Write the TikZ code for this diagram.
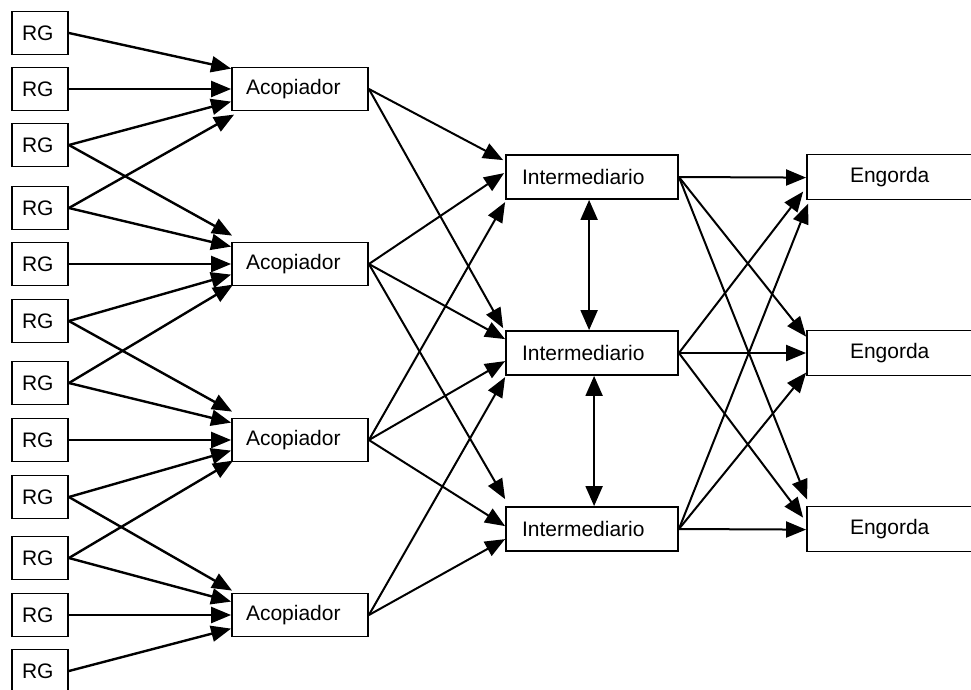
\documentclass[tikz,border=0pt]{standalone}
\usepackage{fontspec}
\setmainfont{Liberation Sans}
\usetikzlibrary{arrows.meta,calc}

\begin{document}
\begin{tikzpicture}[x=1pt,y=-1pt,
  box/.style={draw, line width=1.8pt, rectangle, minimum height=43pt,
    inner ysep=0pt, align=left, font=\fontsize{21}{24}\selectfont},
  rg/.style={box, text width=36pt, inner xsep=10pt},
  acop/.style={box, text width=108pt, inner xsep=14pt},
  inter/.style={box, text width=140pt, inner xsep=16pt, minimum height=44pt},
  eng/.style={box, text width=80pt, inner xsep=43pt, minimum height=45pt},
  link/.style={line width=2pt, -{Triangle[length=20pt,width=16pt]}},
  feed/.style={link, line width=2.4pt},
  both/.style={line width=2pt, {Triangle[length=20pt,width=17pt]}-{Triangle[length=20pt,width=17pt]}},
]
\path[use as bounding box, clip] (0,0) rectangle (971,689);

% producers
\foreach \i/\y in {1/33, 2/89, 3/145, 4/208, 5/264, 6/321, 7/383, 8/440,
                   9/497, 10/558, 11/615, 12/671}
  \node[rg] (rg\i) at (40,\y) {RG};

% collectors
\node[acop] (a1) at (300,89)  {Acopiador};
\node[acop] (a2) at (300,264) {Acopiador};
\node[acop] (a3) at (300,440) {Acopiador};
\node[acop] (a4) at (300,615) {Acopiador};

% intermediaries
\node[inter] (i1) at (592,177) {Intermediario};
\node[inter] (i2) at (592,353) {Intermediario};
\node[inter] (i3) at (592,529) {Intermediario};

% fattening
\node[eng] (e1) at (890,177) {Engorda};
\node[eng] (e2) at (890,353) {Engorda};
\node[eng] (e3) at (890,529) {Engorda};

% RG -> Acopiador
\draw[feed] (rg1.east) -- ($(a1.north west)+(0,2)$);
\draw[feed] (rg2.east) -- (a1.west);
\draw[feed] (rg3.east) -- ($(a1.north west)+(0,35)$);
\draw[feed] (rg4.east) -- ($(a1.north west)+(3,48)$);

\draw[feed] (rg3.east) -- ($(a2.north west)+(1,-6)$);
\draw[feed] (rg4.east) -- ($(a2.north west)+(0,5)$);
\draw[feed] (rg5.east) -- (a2.west);
\draw[feed] (rg6.east) -- ($(a2.north west)+(0,33)$);
\draw[feed] (rg7.east) -- ($(a2.north west)+(2,43)$);

\draw[feed] (rg6.east) -- ($(a3.north west)+(1,-6)$);
\draw[feed] (rg7.east) -- ($(a3.north west)+(0,5)$);
\draw[feed] (rg8.east) -- (a3.west);
\draw[feed] (rg9.east) -- ($(a3.north west)+(0,33)$);
\draw[feed] (rg10.east) -- ($(a3.north west)+(2,43)$);

\draw[feed] (rg9.east) -- ($(a4.north west)+(1,-2)$);
\draw[feed] (rg10.east) -- ($(a4.north west)+(0,9)$);
\draw[feed] (rg11.east) -- (a4.west);
\draw[feed] (rg12.east) -- ($(a4.north west)+(0,36)$);

% Acopiador -> Intermediario
\draw[link] (a1.east) -- ($(i1.north west)+(-2,6)$);
\draw[link] (a1.east) -- ($(i2.north west)+(-2,-2)$);

\draw[link] (a2.east) -- ($(i1.north west)+(-1,19)$);
\draw[link] (a2.east) -- ($(i2.north west)+(0,9)$);
\draw[link] (a2.east) -- ($(i3.north west)+(0,-7)$);

\draw[link] (a3.east) -- ($(i1.north west)+(0,48)$);
\draw[link] (a3.east) -- ($(i2.north west)+(0,31)$);
\draw[link] (a3.east) -- ($(i3.north west)+(0,20)$);

\draw[link] (a4.east) -- ($(i2.north west)+(0,47)$);
\draw[link] (a4.east) -- ($(i3.north west)+(0,33)$);

% exchange between intermediaries
\draw[both] ($(i1.south west)+(84,0)$) -- ($(i2.north west)+(84,0)$);
\draw[both] ($(i2.south west)+(89,0)$) -- ($(i3.north west)+(89,0)$);

% Intermediario -> Engorda
\draw[link] (i1.east) -- ($(e1.north west)+(0,24)$);
\draw[link] (i1.east) -- ($(e2.north west)+(0,7)$);
\draw[link] (i1.east) -- ($(e3.north west)+(1,-6)$);

\draw[link] (i2.east) -- ($(e1.north west)+(-3,38)$);
\draw[link] (i2.east) -- (e2.west);
\draw[link] (i2.east) -- ($(e3.north west)+(-3,12)$);

\draw[link] (i3.east) -- ($(e1.north west)+(2,50)$);
\draw[link] (i3.east) -- ($(e2.north west)+(0,43)$);
\draw[link] (i3.east) -- ($(e3.north west)+(0,24)$);
\end{tikzpicture}
\end{document}
